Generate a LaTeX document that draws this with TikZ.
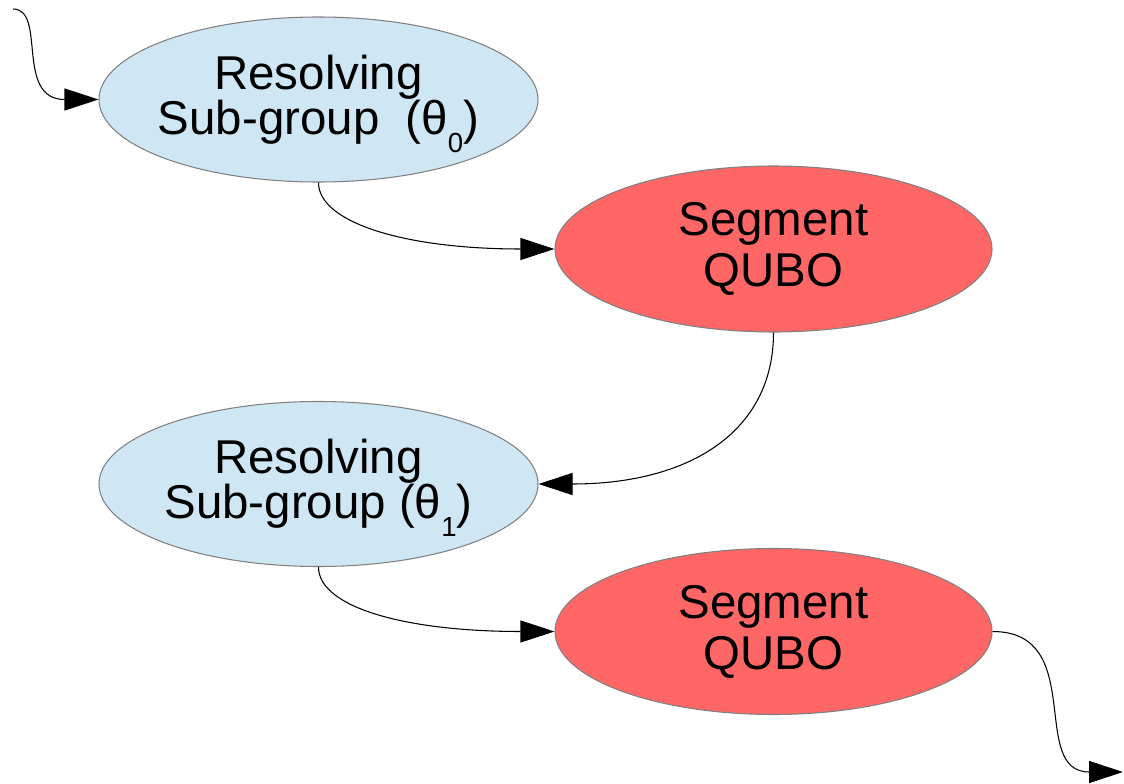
\documentclass[tikz,border=0pt]{standalone}
\usepackage{fontspec}
\setmainfont{Liberation Sans}
\usetikzlibrary{shapes.geometric,arrows.meta}
\definecolor{subblue}{HTML}{CFE7F5}
\definecolor{qubored}{HTML}{FF6666}
\newcommand\thetasub[1]{θ\raisebox{-0.38em}[0pt][0pt]{\fontsize{15.7}{15}\selectfont #1}}

\begin{document}
\begin{tikzpicture}[
  resolve/.style={ellipse, draw=gray, line width=0.6pt, fill=subblue, inner sep=0pt,
    inner xsep=-0.3cm, minimum width=8.78cm, minimum height=3.3cm, align=center,
    font=\fontsize{27}{25.6}\selectfont},
  segment/.style={ellipse, draw=gray, line width=0.6pt, fill=qubored, inner sep=0pt,
    minimum width=8.74cm, minimum height=3.32cm, align=center,
    font=\fontsize{27}{29}\selectfont},
  link/.style={line width=0.6pt, -{Triangle[length=0.68cm,width=0.44cm]}}
]
\useasboundingbox (0,0) rectangle (22.48,15.66);

% Ellipses, top to bottom
\node[resolve] (res0) at (6.37,13.67) {Resolving\\Sub-group \ (\thetasub{0})};
\node[segment] (seg0) at (15.47,10.68) {Segment\\QUBO};
\node[resolve] (res1) at (6.37,5.98) {Resolving\\Sub-group (\thetasub{1})};
\node[segment] (seg1) at (15.47,3.03) {Segment\\QUBO};

% Loose ends
\coordinate (in) at (0.26,15.48);
\coordinate (out) at (22.46,0.22);

% Connectors
\draw[link] (in) .. controls +(0.68,0) and +(-1.68,0) .. (res0.west);
\draw[link] (res0.south) .. controls +(0,-0.8) and +(-3,0) .. (seg0.west);
\draw[link] (seg0.south) .. controls +(0,-2) and +(3,0) .. (res1.east);
\draw[link] (res1.south) .. controls +(0,-0.8) and +(-3,0) .. (seg1.west);
\draw[link] (seg1.east) .. controls +(1.9,0) and +(-1.9,0) .. (out);

\end{tikzpicture}
\end{document}
